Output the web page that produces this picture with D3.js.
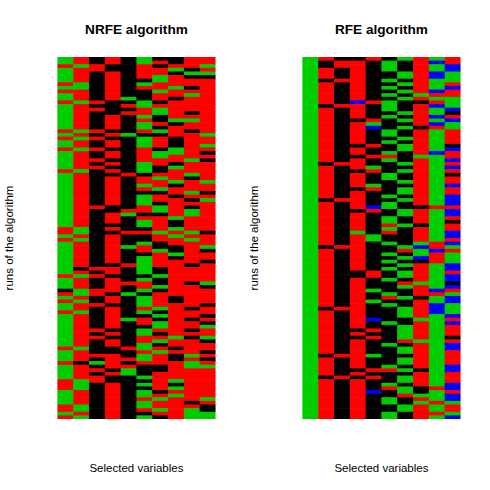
<!DOCTYPE html>
<html><head><meta charset="utf-8"><script src="https://cdn.jsdelivr.net/npm/d3@7"></script>
<style>html,body{margin:0;padding:0;background:#fff}svg{display:block}text{font-family:"Liberation Sans",Arial,sans-serif;fill:#000}</style></head>
<body><div id="chart"></div>
<script>
// Each entry lists state changes along the runs: colour code + first run of that stretch.
const nrfeVariables = [
"G0 R2 G3 R7 G8 R9 G10 R12 G13 R20 G21 R22 G23 R25 G26 R31 G32 R47 G49 R50 G51 R60 G61 K64 R65 G66 R67 G68 R70 G71 R80 G81 R84 G85 R89 G92 R96 G98 R99",
"R0 G2 R3 G7 R9 G12 R13 G20 R21 G22 R23 G25 R26 G31 R32 G47 R49 G50 R51 K58 R59 G60 R61 G64 R66 G67 R68 G70 R71 G80 R81 K84 R85 G89 R92 G96 R98 G99",
"K0 R2 K4 R12 K13 R14 K15 R20 K21 R22 K23 R25 K26 R28 K29 R30 K31 R41 K42 R58 K59 R60 K61 R64 K66 R68 K69 R75 K76 R77 K78 R82 K83 G84 K85 R86 K87 R88 K90",
"R0 K2 R4 K12 R16 K20 R21 K22 R23 K25 R26 K28 R29 K30 R31 K32 R33 K41 R43 K46 R47 K48 R49 K57 R58 K60 R61 K65 R66 K68 R69 K75 R76 K77 R78 K80 R82 K86 R87 K88 R90",
"K0 G11 K12 R13 K14 R15 K16 G21 K22 R32 K33 R42 G43 K44 R48 K49 G52 K53 R57 K58 R62 K63 G65 K66 G72 K73 R80 K81 R83 K84 R85 G86 K88",
"G0 R2 K6 G7 R8 K9 G12 R14 G16 R17 G18 R20 K21 G22 R25 G29 K32 R33 G35 R36 K37 G38 R41 K43 R44 G45 K47 R48 K49 G51 R52 K54 G55 K60 G61 R62 G64 K65 G66 R69 G70 K71 R72 K74 G75 R77 G79 R81 G82 R84 K85 G88 K89 G90 K91 G92 R94 G95 R97 K98 G99",
"K0 R1 K2 R3 G5 R7 G9 R10 K12 R13 G14 K16 R18 K19 G20 K21 R22 K25 G26 R28 K30 R32 G33 R34 G36 K37 R38 K40 G41 K43 R44 G48 R49 K51 G53 R54 K58 G60 K61 G63 K64 R65 G69 K70 G71 K72 G73 R75 K76 R77 G78 K79 R80 G81 R82 K85 R87 K92 R93 G94 R95 G97 R98 K99",
"K0 R2 G3 K4 R5 G8 R9 K11 R12 G17 K18 R19 K22 G25 R27 K29 G30 R31 G34 K35 R36 K38 R39 G44 K45 G47 R48 G49 R50 K52 G54 K55 R56 K66 R68 G77 R78 K80 R81 K82 R84 G89 K90 G91 R92 G93 R94",
"R0 K3 G4 K5 R6 K8 R9 G10 R11 K15 R16 G17 R18 K20 R21 G28 R29 G32 K33 R34 G37 R38 K39 R40 K41 G42 R44 G48 R49 G50 R51 K57 R58 K62 R63 K69 R70 K72 R73 K75 R76 K77 R78 G82 R83 G84 R86 K95 R96 G97",
"R0 G2 R3 G4 K5 R6 G21 R22 G24 R25 K26 R27 K28 R29 G34 R35 K37 R38 G39 R40 K48 R49 G52 K53 R54 K56 R57 G62 K63 R64 K68 R69 K71 R72 K73 G74 R75 G77 K78 R79 K81 R82 K83 R84 G85 R86 G94 R95 K96 G98"
];
const rfeVariables = [
"G0",
"R0 K1 R3 K6 R7 K13 R14 K29 R30 K39 R40 K52 R53 K69 R70 K82 R83 K88 R89",
"K0 R1 K3 R6 K7 R13 K14 R29 K30 R39 K40 R52 K53 R69 K70 R82 K83 R88 K89",
"K0 R1 B12 R13 K17 R18 K24 R25 K27 R28 K31 R32 K36 R37 K42 R43 G48 R49 K59 R61 K75 R76 K77 R78 K86 R87 K88 R89",
"R0 K1 R12 K13 R17 G18 B19 K20 R24 K25 R27 K28 G30 R31 K32 G35 R36 K37 B41 R42 K43 G49 K51 R59 K61 G64 K65 G67 K68 B72 K73 R75 K76 R77 K78 G82 K83 R86 K87 R88 K89 B92 K93",
"K0 G1 K4 G6 K7 G8 K9 G10 K11 G12 K15 G16 K17 G20 K22 G23 K24 G26 R27 G28 K29 G32 K34 G38 K39 G40 K42 G44 R46 G47 R48 K49 G51 K52 G54 K55 G56 K57 G58 K59 G61 K62 G65 R66 K67 G68 K69 G73 K74 G79 K80 G85 R86 K87 G90 R91 K92 G94 K96 G98",
"G0 K1 G4 K6 G7 K8 G9 K10 G11 K12 G15 K16 G17 K18 G19 K20 G22 K23 G24 K26 G29 K30 G31 K32 G34 K35 G36 K38 G39 K40 G42 K44 G46 K47 G52 R53 K54 G55 K56 G57 K58 G59 K61 R62 G63 K64 G66 K67 G69 K72 G74 R78 K79 G80 K82 G83 K85 G86 K87 G88 K90 G91 R93 K94 G96 K98",
"R0 G10 R11 K12 R13 K19 R20 G27 R28 K41 R42 K46 R47 G51 B52 G53 B55 K56 R57 G62 R63 K66 R67 G72 R73 G78 R79 K86 R87 K91 G93 R94 G95 R96",
"G0 B1 G2 B4 G6 B9 R10 G11 R12 B13 G14 B16 G17 B18 R19 G20 B26 G27 R41 G42 R51 B53 R54 G57 B64 R65 G66 B68 G71 R91 G92 R95 G96 R98 G99",
"R0 B2 G4 R7 B8 R9 G11 B14 K15 R16 B17 G18 R20 K24 B25 R26 B28 R29 B30 R31 K32 R33 B35 R36 B38 R41 B42 R44 K45 R46 B48 R50 B51 G52 R53 G54 B57 R59 B60 K62 B63 R64 G65 B66 G68 B71 R72 B73 R74 K77 R78 B79 R81 B85 R87 B90 R92 B93 G95 R96 G98 B99"
];
const panelTitles = ["NRFE algorithm", "RFE algorithm"];
const xLabel = "Selected variables";
const yLabel = "runs of the algorithm";
const stateCodes = ["R", "G", "K", "B"];
const stateColors = ["#ff0000", "#00cd00", "#000000", "#0000ff"];
const runCount = 100;

const fill = d3.scaleOrdinal(stateCodes, stateColors);
const svg = d3.select("#chart").append("svg").attr("width", 490).attr("height", 490);

function expand(col) {
  const stops = col.split(" ").map(s => ({c: s[0], at: +s.slice(1)}));
  const out = [];
  stops.forEach((s, i) => {
    const end = i + 1 < stops.length ? stops[i + 1].at : runCount;
    for (let r = s.at; r < end; r++) out.push({run: r, state: s.c});
  });
  return out;
}

function panel(columns, title, x0, x1, labelX) {
  const g = svg.append("g");
  const x = d3.scaleBand(d3.range(columns.length), [x0, x1]);
  const y = d3.scaleBand(d3.range(runCount), [57, 419]);
  columns.forEach((col, i) => {
    g.selectAll(null).data(expand(col)).join("rect")
      .attr("x", x(i)).attr("width", x.bandwidth() + (i < columns.length - 1 ? 0.5 : 0))
      .attr("y", d => y(d.run)).attr("height", d => y.bandwidth() + (d.run < runCount - 1 ? 0.6 : 0))
      .attr("fill", d => fill(d.state));
  });
  const cx = (x0 + x1) / 2;
  svg.append("text").attr("x", cx).attr("y", 34).attr("text-anchor", "middle")
    .attr("font-size", 13.6).attr("font-weight", "bold").text(title);
  svg.append("text").attr("x", cx).attr("y", 472).attr("text-anchor", "middle")
    .attr("font-size", 11.5).text(xLabel);
  svg.append("text").attr("transform", `translate(${labelX},238) rotate(-90)`)
    .attr("text-anchor", "middle").attr("font-size", 11.5).text(yLabel);
}
panel(nrfeVariables, panelTitles[0], 57.4, 215.5, 13);
panel(rfeVariables, panelTitles[1], 302.4, 460.5, 258);
</script></body></html>
